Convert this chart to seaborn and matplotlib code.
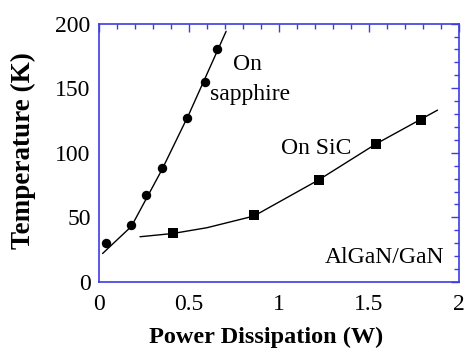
import matplotlib
matplotlib.use("Agg")
import matplotlib.pyplot as plt
import seaborn as sns
import pandas as pd
from matplotlib.ticker import MultipleLocator

# Data
sapphire_power = [0.04, 0.18, 0.26, 0.35, 0.49, 0.59, 0.655]
sapphire_temp = [30, 44, 67, 88, 127, 155, 180]
sapphire_fit_power = [0.02, 0.18, 0.35, 0.50, 0.706]
sapphire_fit_temp = [22, 43, 87, 130, 194]

sic_power = [0.41, 0.86, 1.22, 1.54, 1.79]
sic_temp = [38, 52, 79, 107, 125]
sic_fit_power = [0.228, 0.41, 0.60, 0.86, 1.22, 1.54, 1.88]
sic_fit_temp = [35, 37.5, 42, 51, 79, 107, 133]

x_ticks = [0, 0.5, 1, 1.5, 2]
x_tick_labels = ["0", "0.5", "1", "1.5", "2"]
y_ticks = [0, 50, 100, 150, 200]

sns.set_theme(style="white")
plt.rcParams['font.family'] = ['Liberation Serif', 'DejaVu Serif']
plt.rcParams['text.color'] = 'black'
plt.rcParams['axes.labelcolor'] = 'black'

blue = "#3c3ce0"
fig = plt.figure(figsize=(4.69, 3.52), dpi=100)
ax = fig.add_axes([0.211, 0.199, 0.768, 0.734])

df_sf = pd.DataFrame({"x": sapphire_fit_power, "y": sapphire_fit_temp})
df_cf = pd.DataFrame({"x": sic_fit_power, "y": sic_fit_temp})
sns.lineplot(data=df_sf, x="x", y="y", ax=ax, color="black", lw=1.0, sort=False, estimator=None)
sns.lineplot(data=df_cf, x="x", y="y", ax=ax, color="black", lw=1.0, sort=False, estimator=None)

df_s = pd.DataFrame({"x": sapphire_power, "y": sapphire_temp})
df_c = pd.DataFrame({"x": sic_power, "y": sic_temp})
sns.scatterplot(data=df_s, x="x", y="y", ax=ax, color="black", marker="o", s=46, edgecolor="black", linewidth=0, zorder=3)
sns.scatterplot(data=df_c, x="x", y="y", ax=ax, color="black", marker="s", s=48, edgecolor="black", linewidth=0, zorder=3)

ax.set_xlim(0, 2)
ax.set_ylim(0, 200)
ax.set_xticks(x_ticks)
ax.set_xticklabels(x_tick_labels)
ax.set_yticks(y_ticks)
ax.xaxis.set_minor_locator(MultipleLocator(0.1))
ax.yaxis.set_minor_locator(MultipleLocator(10))
ax.tick_params(which="both", direction="in", top=True, right=True, color=blue,
               labelcolor="black", labelsize=17, width=1.0)
ax.tick_params(axis="x", which="major", pad=9)
ax.tick_params(axis="y", which="major", pad=6)
ax.tick_params(which="major", length=6)
ax.tick_params(which="minor", length=3.3)
for sp in ax.spines.values():
    sp.set_color(blue)
    sp.set_linewidth(1.2)

ax.set_xlabel("Power Dissipation (W)", fontsize=17.5, fontweight="bold", color="black")
ax.set_ylabel("Temperature (K)", fontsize=19.5, fontweight="bold", color="black")
ax.xaxis.set_label_coords(0.464, -0.172)
ax.yaxis.set_label_coords(-0.176, 0.51)

ax.text(0.744, 164, "On", fontsize=17, ha="left", va="baseline", color="black")
ax.text(0.616, 141, "sapphire", fontsize=17, ha="left", va="baseline", color="black")
ax.text(1.205, 99, "On SiC", fontsize=17, ha="center", va="baseline", color="black")
ax.text(1.917, 15, "AlGaN/GaN", fontsize=17, ha="right", va="baseline", color="black")

fig.savefig("out.png", dpi=100)
